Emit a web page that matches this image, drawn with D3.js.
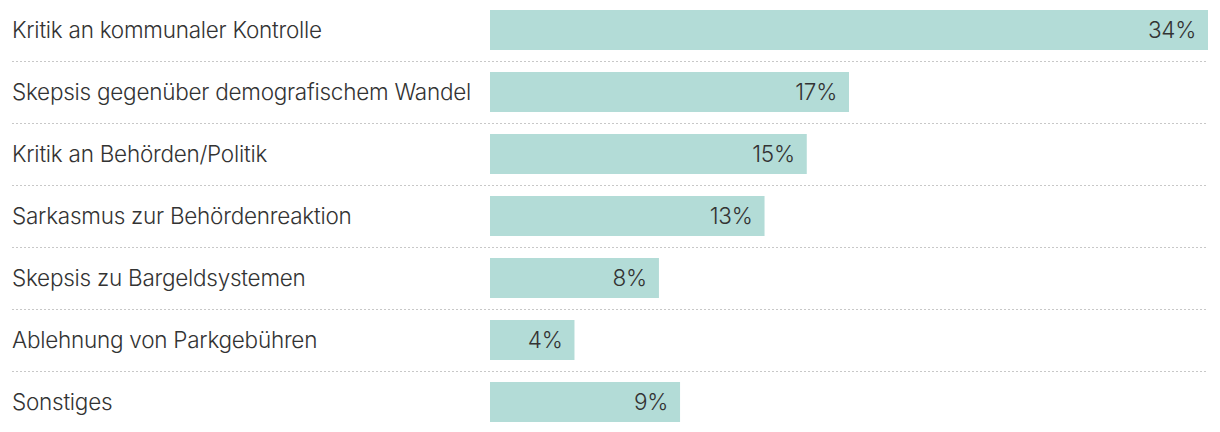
<!DOCTYPE html>
<html>
<head>
<meta charset="utf-8">
<script src="https://cdn.jsdelivr.net/npm/d3@7"></script>
<style>
  html, body { margin: 0; padding: 0; background: #fff; }
  svg { display: block; }
  text { font-family: Inter, "Noto Sans", sans-serif; }
</style>
</head>
<body>
<svg id="chart" width="1220" height="432"></svg>
<script>
const categories = [
  "Kritik an kommunaler Kontrolle",
  "Skepsis gegenüber demografischem Wandel",
  "Kritik an Behörden/Politik",
  "Sarkasmus zur Behördenreaktion",
  "Skepsis zu Bargeldsystemen",
  "Ablehnung von Parkgebühren",
  "Sonstiges"
];
const values = [34, 17, 15, 13, 8, 4, 9];

const svg = d3.select("#chart");

const x = d3.scaleLinear().domain([0, d3.max(values)]).range([490, 1208]);
const y = d3.scaleBand().domain(categories).range([-1, 433]).paddingInner(22 / 62).paddingOuter(11 / 62);

const rowStep = y.step();

// separators
const sepData = categories.slice(0, -1);
svg.append("g").selectAll("line").data(sepData).join("line")
  .attr("x1", 12).attr("x2", 1208)
  .attr("y1", d => Math.round(y(d) + y.bandwidth() + (rowStep - y.bandwidth()) / 2) + 0.5)
  .attr("y2", d => Math.round(y(d) + y.bandwidth() + (rowStep - y.bandwidth()) / 2) + 0.5)
  .attr("stroke", "#c8c8c8").attr("stroke-width", 1).attr("stroke-dasharray", "2,2");

const data = categories.map((c, i) => ({ c, v: values[i] }));

svg.append("g").selectAll("rect").data(data).join("rect")
  .attr("x", x(0)).attr("y", d => y(d.c))
  .attr("width", d => x(d.v) - x(0)).attr("height", y.bandwidth())
  .attr("fill", "#b3dcd7");

svg.append("g").selectAll("text").data(data).join("text")
  .attr("x", 12).attr("y", d => y(d.c) + y.bandwidth() / 2 + 7.5)
  .attr("font-size", 22.5).attr("font-weight", 350).attr("letter-spacing", "-0.25px").attr("fill", "#333")
  .text(d => d.c);

svg.append("g").selectAll("text").data(data).join("text")
  .attr("x", d => x(d.v) - 12).attr("y", d => y(d.c) + y.bandwidth() / 2 + 7.5)
  .attr("text-anchor", "end")
  .attr("font-size", 22.5).attr("font-weight", 350).attr("letter-spacing", "-0.25px").attr("fill", "#333")
  .text(d => d.v + "%");
</script>
</body>
</html>
